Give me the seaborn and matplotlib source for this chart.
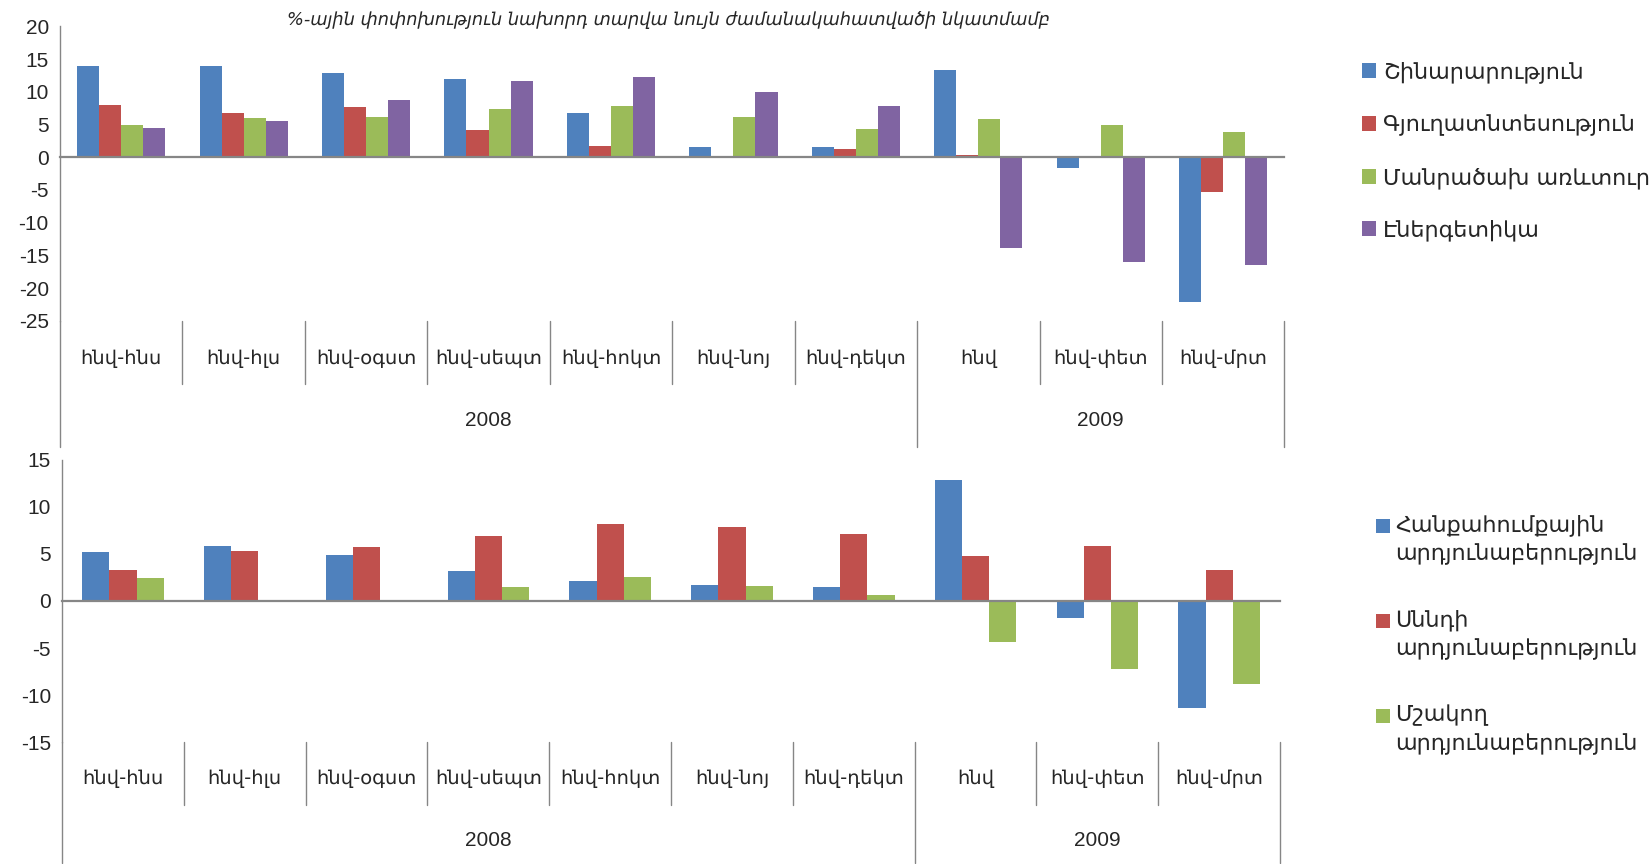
import numpy as np
import pandas as pd
import matplotlib
matplotlib.use("Agg")
import matplotlib.pyplot as plt
from matplotlib.patches import Patch, Rectangle
import seaborn as sns

# Data
months = ["հնվ-հնս", "հնվ-հլս", "հնվ-օգստ", "հնվ-սեպտ", "հնվ-հոկտ",
          "հնվ-նոյ", "հնվ-դեկտ", "հնվ", "հնվ-փետ", "հնվ-մրտ"]
years = ["2008", "2009"]
year_spans = [(0, 6), (7, 9)]

top_series = ["Շինարարություն", "Գյուղատնտեսություն", "Մանրածախ առևտուր", "Էներգետիկա"]
construction = [13.9, 13.9, 12.8, 12.0, 6.8, 1.5, 1.6, 13.3, -1.6, -22.1]
agriculture = [8.0, 6.8, 7.7, 4.1, 1.7, 0.1, 1.2, 0.3, 0.1, -5.3]
retail = [4.9, 6.0, 6.2, 7.4, 7.8, 6.1, 4.3, 5.8, 4.9, 3.8]
energy = [4.4, 5.6, 8.8, 11.6, 12.3, 10.0, 7.9, -13.8, -16.0, -16.4]

bottom_series = ["Հանքահումքային\nարդյունաբերություն",
                 "Սննդի\nարդյունաբերություն",
                 "Մշակող\nարդյունաբերություն"]
mining = [5.2, 5.8, 4.9, 3.2, 2.1, 1.7, 1.5, 12.9, -1.8, -11.4]
food = [3.3, 5.3, 5.7, 6.9, 8.2, 7.85, 7.1, 4.8, 5.8, 3.3]
manufacturing = [2.45, 0.0, 0.0, 1.5, 2.5, 1.55, 0.6, -4.4, -7.2, -8.8]

title = "%-ային փոփոխություն նախորդ տարվա նույն ժամանակահատվածի նկատմամբ"

colors4 = ["#4F81BD", "#C0504D", "#9BBB59", "#8064A2"]
gray = "#868686"


def long_df(series_names, series_values):
    rows = []
    for name, vals in zip(series_names, series_values):
        for m, v in zip(months, vals):
            rows.append({"month": m, "series": name, "value": v})
    return pd.DataFrame(rows)


df_top = long_df(top_series, [construction, agriculture, retail, energy])
df_bot = long_df(bottom_series, [mining, food, manufacturing])

sns.set_style("white")
fonts = ["Liberation Sans Narrow", "Liberation Sans", "DejaVu Sans"]
arm = ["DejaVu Sans"]
plt.rcParams["font.family"] = fonts

fig = plt.figure(figsize=(16.51, 8.64), dpi=100)
ax1 = fig.add_axes([0.0363, 0.6285, 0.7417, 0.3411])
ax2 = fig.add_axes([0.0376, 0.1412, 0.7377, 0.3264])


def style_axis(ax, df, palette, width, ylim, yticks, short, long_, lab_y, year_y):
    sns.barplot(data=df, x="month", y="value", hue="series", order=months,
                palette=palette, width=width, ax=ax, legend=False,
                edgecolor="none", saturation=1)
    ax.set_xlim(-0.5, len(months) - 0.5)
    ax.set_ylim(*ylim)
    ax.set_yticks(yticks)
    ax.set_yticklabels([str(t) for t in yticks], fontsize=15)
    ax.set_xlabel("")
    ax.set_ylabel("")
    for s in ["top", "right"]:
        ax.spines[s].set_visible(False)
    ax.spines["bottom"].set_position(("data", 0))
    ax.spines["bottom"].set_color(gray)
    ax.spines["bottom"].set_linewidth(1.6)
    ax.spines["left"].set_color(gray)
    ax.spines["left"].set_linewidth(1.0)
    ax.set_xticks(np.arange(-0.5, len(months), 1))
    ax.set_xticklabels([])
    ax.tick_params(axis="x", direction="out", length=5, width=1.2, color=gray)
    ax.tick_params(axis="y", direction="out", length=4, width=1.0, color=gray, pad=4)
    # category dividers and labels under the plot
    for i in range(len(months) + 1):
        x = i - 0.5
        is_long = x in (-0.5, 6.5, len(months) - 0.5)
        ax.axvline(x, ymin=-(long_ if is_long else short), ymax=0,
                   color=gray, lw=1.0, clip_on=False)
    for i, m in enumerate(months):
        ax.text(i, lab_y, m, transform=ax.get_xaxis_transform(), ha="center",
                va="center", fontsize=14, family=arm)
    for yr, (a, b) in zip(years, year_spans):
        ax.text((a + b) / 2, year_y, yr, transform=ax.get_xaxis_transform(),
                ha="center", va="center", fontsize=15)


style_axis(ax1, df_top, colors4, 0.72, (-25, 20), list(range(-25, 21, 5)),
           0.214, 0.428, -0.128, -0.338)
style_axis(ax2, df_bot, colors4[:3], 0.67, (-15, 15), list(range(-15, 16, 5)),
           0.223, 0.43, -0.130, -0.348)

fig.text(0.405, 0.977, title, ha="center", va="center", fontsize=12.8,
         style="italic", family=arm)

h1 = [Patch(facecolor=c, edgecolor="none") for c in colors4]
fig.legend(h1, top_series, loc="upper left", bbox_to_anchor=(0.8195, 0.939),
           frameon=False, prop={"family": arm, "size": 16},
           handlelength=0.65, handleheight=0.65, handletextpad=0.3,
           labelspacing=1.39, borderaxespad=0)

# bottom legend: square aligned with the first line of each two-line label
leg_x = 1376 / 1651
leg_y0 = 526 / 864
leg_step = 95 / 864
sq_w, sq_h = 14 / 1651, 14 / 864
for k, (c, lab) in enumerate(zip(colors4[:3], bottom_series)):
    yc = 1 - (leg_y0 + k * leg_step)
    fig.patches.append(Rectangle((leg_x, yc - sq_h / 2), sq_w, sq_h,
                                 facecolor=c, edgecolor="none",
                                 transform=fig.transFigure, figure=fig))
    fig.text(leg_x + sq_w + 5 / 1651, yc + 12 / 864, lab, ha="left", va="top",
             fontsize=16, family=arm, linespacing=1.47)

fig.savefig("out.png", dpi=100)
